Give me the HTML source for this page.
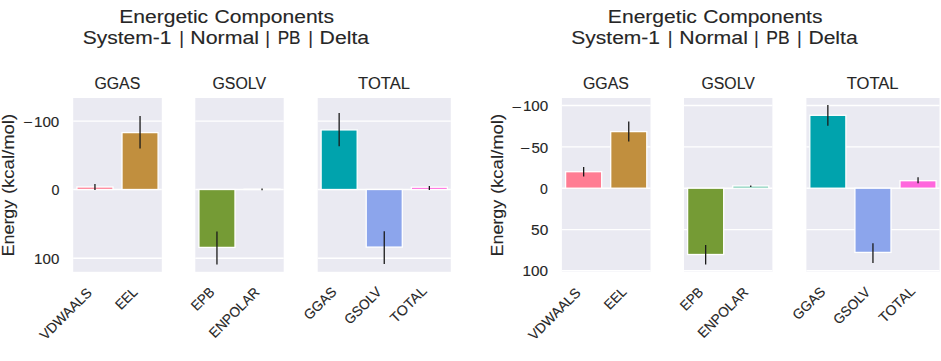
<!DOCTYPE html>
<html><head><meta charset="utf-8"><style>
html,body{margin:0;padding:0;background:#fff;}
body{width:941px;height:361px;overflow:hidden;}
svg{display:block;}
text{font-family:"Liberation Sans", sans-serif;fill:#262626;stroke:#262626;stroke-width:0.12;}
</style></head><body>
<svg width="941" height="361" viewBox="0 0 941 361">
<rect x="73.20" y="98.00" width="88.60" height="173.80" fill="#eaeaf2"/>
<line x1="73.20" x2="161.80" y1="121.10" y2="121.10" stroke="#fff" stroke-width="1.4"/>
<line x1="73.20" x2="161.80" y1="189.50" y2="189.50" stroke="#fff" stroke-width="1.4"/>
<line x1="73.20" x2="161.80" y1="258.20" y2="258.20" stroke="#fff" stroke-width="1.4"/>
<rect x="76.91" y="187.00" width="36.08" height="2.50" fill="#ff7d93" stroke="#fff" stroke-width="1.3"/>
<line x1="94.95" x2="94.95" y1="184.00" y2="190.00" stroke="#1a1a1a" stroke-width="1.3"/>
<rect x="122.01" y="132.60" width="36.08" height="56.90" fill="#c18f3e" stroke="#fff" stroke-width="1.3"/>
<line x1="140.05" x2="140.05" y1="116.00" y2="148.60" stroke="#1a1a1a" stroke-width="1.3"/>
<rect x="195.30" y="98.00" width="88.40" height="173.80" fill="#eaeaf2"/>
<line x1="195.30" x2="283.70" y1="121.10" y2="121.10" stroke="#fff" stroke-width="1.4"/>
<line x1="195.30" x2="283.70" y1="189.50" y2="189.50" stroke="#fff" stroke-width="1.4"/>
<line x1="195.30" x2="283.70" y1="258.20" y2="258.20" stroke="#fff" stroke-width="1.4"/>
<rect x="198.91" y="189.50" width="36.08" height="57.90" fill="#759b35" stroke="#fff" stroke-width="1.3"/>
<line x1="216.95" x2="216.95" y1="231.60" y2="264.50" stroke="#1a1a1a" stroke-width="1.3"/>
<rect x="244.01" y="189.20" width="36.08" height="0.30" fill="#5cbfa3" stroke="#fff" stroke-width="1.3"/>
<line x1="262.05" x2="262.05" y1="188.60" y2="190.20" stroke="#1a1a1a" stroke-width="1.3"/>
<rect x="317.70" y="98.00" width="133.10" height="173.80" fill="#eaeaf2"/>
<line x1="317.70" x2="450.80" y1="121.10" y2="121.10" stroke="#fff" stroke-width="1.4"/>
<line x1="317.70" x2="450.80" y1="189.50" y2="189.50" stroke="#fff" stroke-width="1.4"/>
<line x1="317.70" x2="450.80" y1="258.20" y2="258.20" stroke="#fff" stroke-width="1.4"/>
<rect x="321.11" y="129.90" width="36.08" height="59.60" fill="#00a3ad" stroke="#fff" stroke-width="1.3"/>
<line x1="339.15" x2="339.15" y1="113.00" y2="146.20" stroke="#1a1a1a" stroke-width="1.3"/>
<rect x="366.21" y="189.50" width="36.08" height="57.60" fill="#8ca5ec" stroke="#fff" stroke-width="1.3"/>
<line x1="384.25" x2="384.25" y1="231.30" y2="264.00" stroke="#1a1a1a" stroke-width="1.3"/>
<rect x="411.31" y="187.20" width="36.08" height="2.30" fill="#ff66dd" stroke="#fff" stroke-width="1.3"/>
<line x1="429.35" x2="429.35" y1="186.00" y2="190.00" stroke="#1a1a1a" stroke-width="1.3"/>
<rect x="561.90" y="98.00" width="88.60" height="173.80" fill="#eaeaf2"/>
<line x1="561.90" x2="650.50" y1="105.50" y2="105.50" stroke="#fff" stroke-width="1.4"/>
<line x1="561.90" x2="650.50" y1="146.90" y2="146.90" stroke="#fff" stroke-width="1.4"/>
<line x1="561.90" x2="650.50" y1="188.20" y2="188.20" stroke="#fff" stroke-width="1.4"/>
<line x1="561.90" x2="650.50" y1="229.60" y2="229.60" stroke="#fff" stroke-width="1.4"/>
<line x1="561.90" x2="650.50" y1="270.80" y2="270.80" stroke="#fff" stroke-width="1.4"/>
<rect x="565.61" y="171.70" width="36.08" height="16.50" fill="#ff7d93" stroke="#fff" stroke-width="1.3"/>
<line x1="583.65" x2="583.65" y1="166.90" y2="176.40" stroke="#1a1a1a" stroke-width="1.3"/>
<rect x="610.71" y="131.60" width="36.08" height="56.60" fill="#c18f3e" stroke="#fff" stroke-width="1.3"/>
<line x1="628.75" x2="628.75" y1="121.60" y2="141.60" stroke="#1a1a1a" stroke-width="1.3"/>
<rect x="684.00" y="98.00" width="88.40" height="173.80" fill="#eaeaf2"/>
<line x1="684.00" x2="772.40" y1="105.50" y2="105.50" stroke="#fff" stroke-width="1.4"/>
<line x1="684.00" x2="772.40" y1="146.90" y2="146.90" stroke="#fff" stroke-width="1.4"/>
<line x1="684.00" x2="772.40" y1="188.20" y2="188.20" stroke="#fff" stroke-width="1.4"/>
<line x1="684.00" x2="772.40" y1="229.60" y2="229.60" stroke="#fff" stroke-width="1.4"/>
<line x1="684.00" x2="772.40" y1="270.80" y2="270.80" stroke="#fff" stroke-width="1.4"/>
<rect x="687.61" y="188.20" width="36.08" height="66.30" fill="#759b35" stroke="#fff" stroke-width="1.3"/>
<line x1="705.65" x2="705.65" y1="245.00" y2="264.60" stroke="#1a1a1a" stroke-width="1.3"/>
<rect x="732.71" y="186.00" width="36.08" height="2.20" fill="#5cbfa3" stroke="#fff" stroke-width="1.3"/>
<line x1="750.75" x2="750.75" y1="185.40" y2="186.90" stroke="#1a1a1a" stroke-width="1.3"/>
<rect x="806.40" y="98.00" width="133.10" height="173.80" fill="#eaeaf2"/>
<line x1="806.40" x2="939.50" y1="105.50" y2="105.50" stroke="#fff" stroke-width="1.4"/>
<line x1="806.40" x2="939.50" y1="146.90" y2="146.90" stroke="#fff" stroke-width="1.4"/>
<line x1="806.40" x2="939.50" y1="188.20" y2="188.20" stroke="#fff" stroke-width="1.4"/>
<line x1="806.40" x2="939.50" y1="229.60" y2="229.60" stroke="#fff" stroke-width="1.4"/>
<line x1="806.40" x2="939.50" y1="270.80" y2="270.80" stroke="#fff" stroke-width="1.4"/>
<rect x="809.81" y="115.30" width="36.08" height="72.90" fill="#00a3ad" stroke="#fff" stroke-width="1.3"/>
<line x1="827.85" x2="827.85" y1="105.00" y2="125.80" stroke="#1a1a1a" stroke-width="1.3"/>
<rect x="854.91" y="188.20" width="36.08" height="64.20" fill="#8ca5ec" stroke="#fff" stroke-width="1.3"/>
<line x1="872.95" x2="872.95" y1="243.30" y2="263.00" stroke="#1a1a1a" stroke-width="1.3"/>
<rect x="900.01" y="180.70" width="36.08" height="7.50" fill="#ff66dd" stroke="#fff" stroke-width="1.3"/>
<line x1="918.05" x2="918.05" y1="177.20" y2="183.30" stroke="#1a1a1a" stroke-width="1.3"/>
<text x="119.26" y="22.60" font-size="18.3" textLength="88.89" lengthAdjust="spacingAndGlyphs" text-anchor="start">Energetic</text>
<text x="214.63" y="22.60" font-size="18.3" textLength="119.33" lengthAdjust="spacingAndGlyphs" text-anchor="start">Components</text>
<text x="82.68" y="43.90" font-size="18.3" textLength="88.67" lengthAdjust="spacingAndGlyphs" text-anchor="start">System-1</text>
<text x="179.13" y="43.90" font-size="18.3" textLength="4.75" lengthAdjust="spacingAndGlyphs" text-anchor="start">|</text>
<text x="190.34" y="43.90" font-size="18.3" textLength="68.80" lengthAdjust="spacingAndGlyphs" text-anchor="start">Normal</text>
<text x="265.29" y="43.90" font-size="18.3" textLength="4.75" lengthAdjust="spacingAndGlyphs" text-anchor="start">|</text>
<text x="277.65" y="43.90" font-size="18.3" textLength="22.97" lengthAdjust="spacingAndGlyphs" text-anchor="start">PB</text>
<text x="308.29" y="43.90" font-size="18.3" textLength="4.75" lengthAdjust="spacingAndGlyphs" text-anchor="start">|</text>
<text x="319.64" y="43.90" font-size="18.3" textLength="49.42" lengthAdjust="spacingAndGlyphs" text-anchor="start">Delta</text>
<text x="94.38" y="88.80" font-size="16.3" textLength="45.91" lengthAdjust="spacingAndGlyphs" text-anchor="start">GGAS</text>
<text x="212.50" y="88.80" font-size="16.3" textLength="53.59" lengthAdjust="spacingAndGlyphs" text-anchor="start">GSOLV</text>
<text x="358.12" y="88.80" font-size="16.3" textLength="51.79" lengthAdjust="spacingAndGlyphs" text-anchor="start">TOTAL</text>
<text x="14.00" y="256.43" font-size="16.4" textLength="56.66" lengthAdjust="spacingAndGlyphs" text-anchor="start" transform="rotate(-90 14.00 256.43)">Energy</text>
<text x="14.00" y="194.08" font-size="16.4" textLength="80.22" lengthAdjust="spacingAndGlyphs" text-anchor="start" transform="rotate(-90 14.00 194.08)">(kcal/mol)</text>
<text x="45.59" y="340.84" font-size="14" textLength="66.54" lengthAdjust="spacingAndGlyphs" text-anchor="start" transform="rotate(-45 45.59 340.84)">VDWAALS</text>
<text x="120.91" y="310.54" font-size="14" textLength="24.80" lengthAdjust="spacingAndGlyphs" text-anchor="start" transform="rotate(-45 120.91 310.54)">EEL</text>
<text x="196.85" y="311.57" font-size="14" textLength="26.07" lengthAdjust="spacingAndGlyphs" text-anchor="start" transform="rotate(-45 196.85 311.57)">EPB</text>
<text x="214.86" y="338.68" font-size="14" textLength="64.43" lengthAdjust="spacingAndGlyphs" text-anchor="start" transform="rotate(-45 214.86 338.68)">ENPOLAR</text>
<text x="309.52" y="320.67" font-size="14" textLength="39.32" lengthAdjust="spacingAndGlyphs" text-anchor="start" transform="rotate(-45 309.52 320.67)">GGAS</text>
<text x="350.09" y="325.31" font-size="14" textLength="45.76" lengthAdjust="spacingAndGlyphs" text-anchor="start" transform="rotate(-45 350.09 325.31)">GSOLV</text>
<text x="395.72" y="323.72" font-size="14" textLength="45.00" lengthAdjust="spacingAndGlyphs" text-anchor="start" transform="rotate(-45 395.72 323.72)">TOTAL</text>
<text x="607.86" y="22.60" font-size="18.3" textLength="89.00" lengthAdjust="spacingAndGlyphs" text-anchor="start">Energetic</text>
<text x="703.26" y="22.60" font-size="18.3" textLength="119.22" lengthAdjust="spacingAndGlyphs" text-anchor="start">Components</text>
<text x="571.34" y="43.90" font-size="18.3" textLength="88.67" lengthAdjust="spacingAndGlyphs" text-anchor="start">System-1</text>
<text x="667.68" y="43.90" font-size="18.3" textLength="4.75" lengthAdjust="spacingAndGlyphs" text-anchor="start">|</text>
<text x="679.33" y="43.90" font-size="18.3" textLength="68.53" lengthAdjust="spacingAndGlyphs" text-anchor="start">Normal</text>
<text x="753.96" y="43.90" font-size="18.3" textLength="4.75" lengthAdjust="spacingAndGlyphs" text-anchor="start">|</text>
<text x="766.29" y="43.90" font-size="18.3" textLength="23.34" lengthAdjust="spacingAndGlyphs" text-anchor="start">PB</text>
<text x="796.96" y="43.90" font-size="18.3" textLength="4.75" lengthAdjust="spacingAndGlyphs" text-anchor="start">|</text>
<text x="808.42" y="43.90" font-size="18.3" textLength="49.26" lengthAdjust="spacingAndGlyphs" text-anchor="start">Delta</text>
<text x="582.97" y="88.80" font-size="16.3" textLength="45.98" lengthAdjust="spacingAndGlyphs" text-anchor="start">GGAS</text>
<text x="701.46" y="88.80" font-size="16.3" textLength="53.38" lengthAdjust="spacingAndGlyphs" text-anchor="start">GSOLV</text>
<text x="846.69" y="88.80" font-size="16.3" textLength="51.87" lengthAdjust="spacingAndGlyphs" text-anchor="start">TOTAL</text>
<text x="502.70" y="256.43" font-size="16.4" textLength="56.66" lengthAdjust="spacingAndGlyphs" text-anchor="start" transform="rotate(-90 502.70 256.43)">Energy</text>
<text x="502.70" y="194.08" font-size="16.4" textLength="80.22" lengthAdjust="spacingAndGlyphs" text-anchor="start" transform="rotate(-90 502.70 194.08)">(kcal/mol)</text>
<text x="534.25" y="340.94" font-size="14" textLength="66.76" lengthAdjust="spacingAndGlyphs" text-anchor="start" transform="rotate(-45 534.25 340.94)">VDWAALS</text>
<text x="609.65" y="310.58" font-size="14" textLength="25.26" lengthAdjust="spacingAndGlyphs" text-anchor="start" transform="rotate(-45 609.65 310.58)">EEL</text>
<text x="685.81" y="311.44" font-size="14" textLength="25.90" lengthAdjust="spacingAndGlyphs" text-anchor="start" transform="rotate(-45 685.81 311.44)">EPB</text>
<text x="703.60" y="338.76" font-size="14" textLength="64.57" lengthAdjust="spacingAndGlyphs" text-anchor="start" transform="rotate(-45 703.60 338.76)">ENPOLAR</text>
<text x="798.34" y="320.69" font-size="14" textLength="39.50" lengthAdjust="spacingAndGlyphs" text-anchor="start" transform="rotate(-45 798.34 320.69)">GGAS</text>
<text x="838.90" y="325.15" font-size="14" textLength="45.43" lengthAdjust="spacingAndGlyphs" text-anchor="start" transform="rotate(-45 838.90 325.15)">GSOLV</text>
<text x="884.43" y="323.58" font-size="14" textLength="44.70" lengthAdjust="spacingAndGlyphs" text-anchor="start" transform="rotate(-45 884.43 323.58)">TOTAL</text>
<text x="23.11" y="127.30" font-size="14" textLength="9.49" lengthAdjust="spacingAndGlyphs" text-anchor="start">−</text>
<text x="34.02" y="126.70" font-size="14" textLength="25.28" lengthAdjust="spacingAndGlyphs" text-anchor="start">100</text>
<text x="51.44" y="195.10" font-size="14" textLength="7.97" lengthAdjust="spacingAndGlyphs" text-anchor="start">0</text>
<text x="34.14" y="263.80" font-size="14" textLength="25.17" lengthAdjust="spacingAndGlyphs" text-anchor="start">100</text>
<text x="511.63" y="111.70" font-size="14" textLength="9.87" lengthAdjust="spacingAndGlyphs" text-anchor="start">−</text>
<text x="522.91" y="111.10" font-size="14" textLength="25.34" lengthAdjust="spacingAndGlyphs" text-anchor="start">100</text>
<text x="520.14" y="153.10" font-size="14" textLength="9.79" lengthAdjust="spacingAndGlyphs" text-anchor="start">−</text>
<text x="531.40" y="152.50" font-size="14" textLength="16.79" lengthAdjust="spacingAndGlyphs" text-anchor="start">50</text>
<text x="540.06" y="193.80" font-size="14" textLength="7.84" lengthAdjust="spacingAndGlyphs" text-anchor="start">0</text>
<text x="531.07" y="235.20" font-size="14" textLength="17.20" lengthAdjust="spacingAndGlyphs" text-anchor="start">50</text>
<text x="522.63" y="276.40" font-size="14" textLength="25.50" lengthAdjust="spacingAndGlyphs" text-anchor="start">100</text>
</svg>
</body></html>
